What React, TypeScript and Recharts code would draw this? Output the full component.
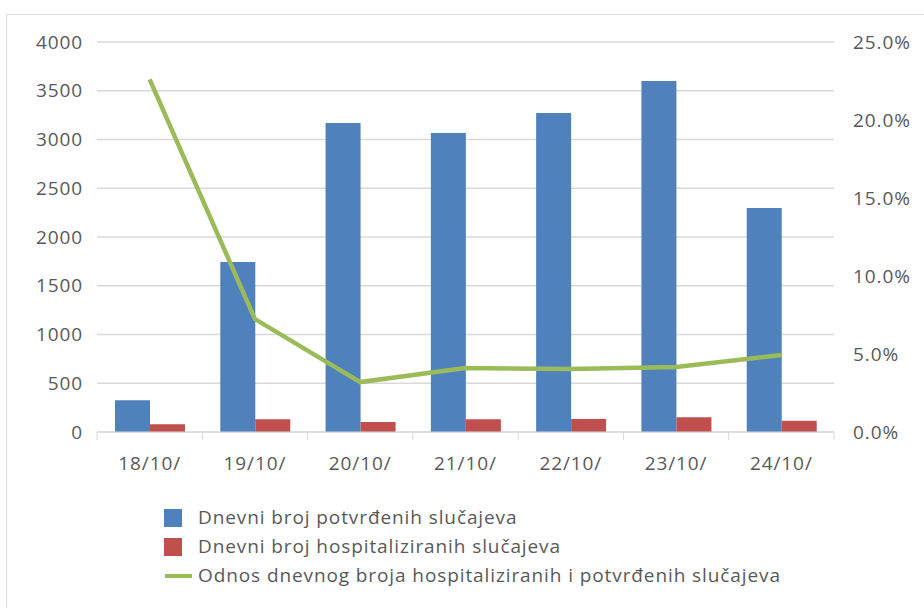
import React from 'react';
import { ComposedChart, Bar, Line, XAxis, YAxis, CartesianGrid, Legend } from 'recharts';

const categories = ['18/10/', '19/10/', '20/10/', '21/10/', '22/10/', '23/10/', '24/10/'];
const confirmed = [325, 1744, 3169, 3067, 3272, 3600, 2297];
const hospitalized = [79, 130, 103, 130, 133, 151, 116];
const ratio = [22.6, 7.24, 3.2, 4.1, 4.04, 4.17, 4.94];
const leftTicks = [0, 500, 1000, 1500, 2000, 2500, 3000, 3500, 4000];
const rightTicks = [0, 5, 10, 15, 20, 25];

const names = {
  confirmed: 'Dnevni broj potvrđenih slučajeva',
  hospitalized: 'Dnevni broj hospitaliziranih slučajeva',
  ratio: 'Odnos dnevnog broja hospitaliziranih i potvrđenih slučajeva',
};

const data = categories.map((c, i) => ({
  name: c,
  confirmed: confirmed[i],
  hospitalized: hospitalized[i],
  ratio: ratio[i],
}));

const BLUE = '#4f81bd';
const RED = '#c0504d';
const GREEN = '#9bbb59';
const GRID = '#d9d9d9';
const TEXT = '#595959';
const FONT = '"Open Sans", sans-serif';
const FS = 19;
const LS = 0.9;

const XTick = (props: any) => {
  const { x, y, payload, index, visibleTicksCount } = props;
  const off = payload && payload.offset ? payload.offset : 52.6;
  const last = index === (visibleTicksCount ?? categories.length) - 1;
  return (
    <g>
      <line x1={x - off} x2={x - off} y1={y - 8} y2={y} stroke={GRID} strokeWidth={1} />
      {last && <line x1={x + off} x2={x + off} y1={y - 8} y2={y} stroke={GRID} strokeWidth={1} />}
      <text x={x} y={y + 30} textAnchor="middle" fill={TEXT} fontSize={FS} fontFamily={FONT} letterSpacing={LS}>
        {payload.value}
      </text>
    </g>
  );
};

const LegendContent = () => {
  const rows = [
    { key: 'confirmed', color: BLUE, type: 'square' },
    { key: 'hospitalized', color: RED, type: 'square' },
    { key: 'ratio', color: GREEN, type: 'line' },
  ];
  return (
    <div style={{ fontFamily: FONT, fontSize: FS, letterSpacing: LS, color: TEXT, lineHeight: '29px' }}>
      {rows.map((r) => (
        <div key={r.key} style={{ display: 'flex', alignItems: 'center', height: 29 }}>
          <div style={{ width: 38, display: 'flex', alignItems: 'center' }}>
            {r.type === 'square' ? (
              <div style={{ width: 18, height: 18, background: r.color, marginLeft: 4 }} />
            ) : (
              <div style={{ width: 27, height: 4, background: r.color, marginLeft: 5 }} />
            )}
          </div>
          <span>{(names as any)[r.key]}</span>
        </div>
      ))}
    </div>
  );
};

export default function App() {
  return (
    <div style={{ position: 'absolute', left: 0, top: 0, width: 924, height: 608, background: '#fff', overflow: 'hidden' }}>
      <div style={{ position: 'absolute', left: 6, top: 14, width: 1000, height: 1000, borderTop: `1px solid ${GRID}`, borderLeft: `1px solid ${GRID}` }} />
      <div style={{ position: 'absolute', left: 0, top: 0 }}>
        <ComposedChart
          width={924}
          height={608}
          data={data}
          margin={{ top: 42, right: 0, left: 0, bottom: 49 }}
          barGap={0}
          barSize={35}
        >
          <CartesianGrid yAxisId="left" vertical={false} stroke={GRID} strokeWidth={1.5} />
          <XAxis
            dataKey="name"
            axisLine={{ stroke: GRID }}
            tickLine={false}
            tick={<XTick />}
            height={40}
            interval={0}
          />
          <YAxis
            yAxisId="left"
            orientation="left"
            width={97}
            domain={[0, 4000]}
            ticks={leftTicks}
            axisLine={false}
            tickLine={false}
            tickMargin={8}
            tick={{ fill: TEXT, fontSize: FS, fontFamily: FONT, letterSpacing: LS }}
          />
          <YAxis
            yAxisId="right"
            orientation="right"
            width={90}
            domain={[0, 25]}
            ticks={rightTicks}
            axisLine={false}
            tickLine={false}
            tickMargin={13}
            tickFormatter={(v: number) => v.toFixed(1) + '%'}
            tick={{ fill: TEXT, fontSize: FS, fontFamily: FONT, letterSpacing: LS, textAnchor: 'start' }}
          />
          <Bar yAxisId="left" dataKey="confirmed" name={names.confirmed} fill={BLUE} isAnimationActive={false} />
          <Bar yAxisId="left" dataKey="hospitalized" name={names.hospitalized} fill={RED} isAnimationActive={false} />
          <Line
            yAxisId="right"
            dataKey="ratio"
            name={names.ratio}
            stroke={GREEN}
            strokeWidth={4.5}
            dot={false}
            type="linear"
            isAnimationActive={false}
          />
          <Legend
            content={<LegendContent />}
            wrapperStyle={{ position: 'absolute', left: 160, top: 503, width: 720 }}
          />
        </ComposedChart>
      </div>
    </div>
  );
}
